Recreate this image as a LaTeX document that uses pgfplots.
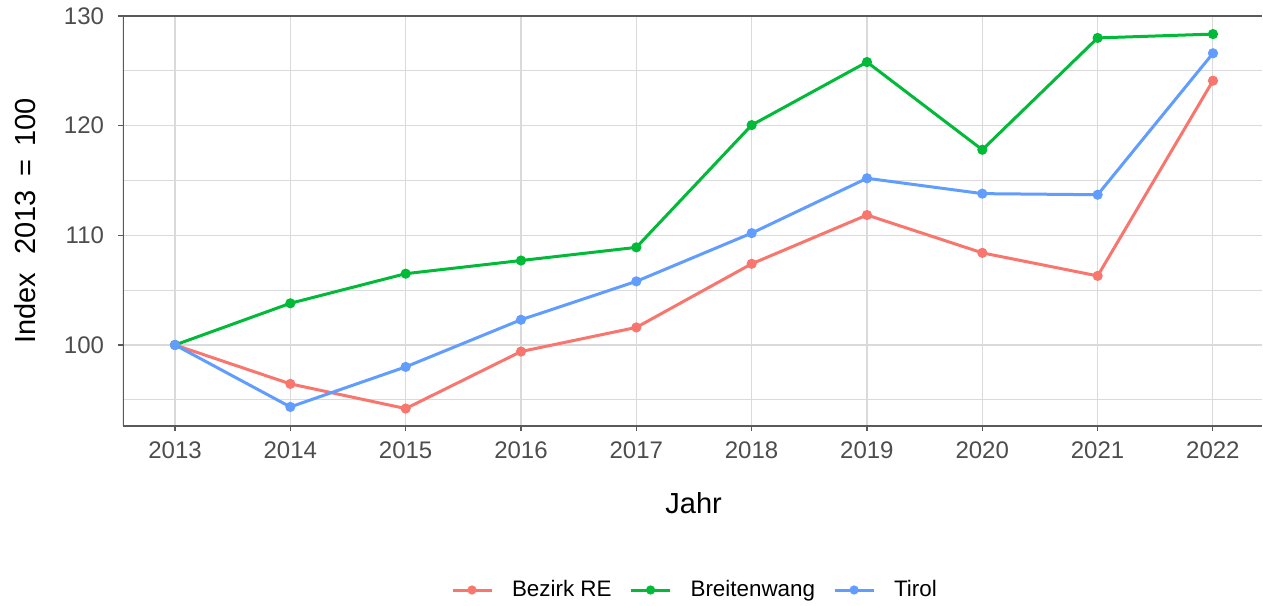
\documentclass[border=0pt]{standalone}
\usepackage{pgfplots}
\pgfplotsset{compat=1.18}
\usepackage{fontspec}
\setmainfont{Liberation Sans}
\definecolor{cRE}{HTML}{F8766D}
\definecolor{cBW}{HTML}{00BA38}
\definecolor{cTI}{HTML}{619CFF}
\definecolor{gridc}{HTML}{DADADA}
\definecolor{axc}{HTML}{5A5A5A}
\definecolor{tickc}{HTML}{4D4D4D}
\begin{document}
\begin{tikzpicture}
\useasboundingbox (0,0) rectangle (631.5pt,302.5pt);
\begin{axis}[
  at={(61.5pt,89.5pt)}, anchor=south west,
  scale only axis, width=569.5pt, height=205pt,
  xmin=2012.549, xmax=2022.425, ymin=92.61, ymax=130,
  xtick={2013,...,2022}, ytick={100,110,120,130},
  minor ytick={95,105,115,125},
  xticklabel style={/pgf/number format/1000 sep={}, yshift=-2pt},
  yticklabel style={xshift=-3.5pt},
  /pgf/number format/assume math mode=true,
  ticklabel style={font=\fontsize{12}{14}\selectfont, text=tickc},
  grid=both,
  major grid style={gridc, line width=0.6pt},
  minor grid style={gridc, line width=0.5pt},
  axis line style={draw=none},
  tick align=outside, xtick pos=bottom, ytick pos=left,
  major tick length=2.5pt, minor tick length=0pt,
  tick style={axc, line width=0.6pt},
  xlabel={Jahr}, ylabel={Index\hspace{9pt}2013\hspace{7pt}=\hspace{6.5pt}100},
  xlabel style={at={(axis description cs:0.501,-0.188)}, anchor=center, font=\fontsize{14.5}{16}\selectfont},
  ylabel style={at={(axis description cs:-0.086,0.5)}, anchor=center, font=\fontsize{14.5}{16}\selectfont},
  legend columns=3,
  legend style={at={(axis description cs:0.503,-0.4)}, anchor=center, draw=none, fill=none,
    font=\fontsize{11.2}{13}\selectfont, cells={inner xsep=0pt},
    /tikz/every odd column/.append style={column sep=7.5pt},
    /tikz/every even column/.append style={column sep=7pt}},
  legend image code/.code={\draw[#1] (0pt,0pt) -- (19.5pt,0pt); \draw[#1, mark repeat=1, mark size=1.5pt] plot coordinates {(9.75pt,0pt)};},
  every axis plot/.append style={line width=1.5pt, mark=*, mark size=1.75pt},
]
\draw[axc, line width=1pt] (rel axis cs:0,0) -- (rel axis cs:1,0);
\draw[axc, line width=1pt] (rel axis cs:0,0) -- (rel axis cs:0,1);
\draw[axc, line width=1pt] (rel axis cs:0,1) -- (rel axis cs:1,1);
\addplot[cRE, mark options={fill=cRE}] coordinates {
(2013,100) (2014,96.45) (2015,94.2) (2016,99.4) (2017,101.6) (2018,107.4) (2019,111.85) (2020,108.4) (2021,106.3) (2022,124.1)};
\addlegendentry{Bezirk RE}
\addplot[cBW, mark options={fill=cBW}] coordinates {
(2013,100) (2014,103.8) (2015,106.5) (2016,107.7) (2017,108.9) (2018,120.05) (2019,125.8) (2020,117.8) (2021,128.0) (2022,128.35)};
\addlegendentry{Breitenwang}
\addplot[cTI, mark options={fill=cTI}] coordinates {
(2013,100) (2014,94.35) (2015,98.0) (2016,102.3) (2017,105.8) (2018,110.2) (2019,115.2) (2020,113.8) (2021,113.7) (2022,126.6)};
\addlegendentry{Tirol}
\end{axis}
\end{tikzpicture}
\end{document}
